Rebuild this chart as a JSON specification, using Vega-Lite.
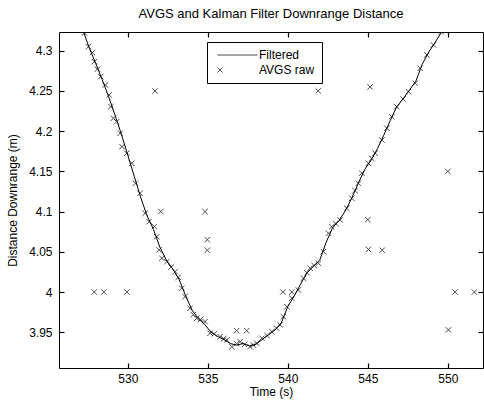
{
  "$schema": "https://vega.github.io/schema/vega-lite/v6.json",
  "width": 424,
  "height": 336,
  "autosize": {"type": "none"},
  "padding": {"left": 59, "top": 32, "right": 1, "bottom": 33},
  "background": "white",
  "config": {
    "view": {"stroke": "black", "strokeWidth": 1},
    "font": "Liberation Sans",
    "axis": {"labelFont": "Liberation Sans", "titleFont": "Liberation Sans", "labelColor": "black", "titleColor": "black", "grid": false, "domain": false, "titleFontWeight": "normal", "labelFontSize": 12, "titleFontSize": 12, "ticks": true, "tickColor": "black", "tickWidth": 1.2, "tickSize": -5}
  },
  "title": {"text": "AVGS and Kalman Filter Downrange Distance", "fontSize": 13, "fontWeight": "normal", "font": "Liberation Sans", "color": "black", "offset": 10, "frame": "group", "anchor": "middle"},
  "datasets": {
    "filtered": [
      {"t": 527.2, "d": 4.325}, {"t": 527.6, "d": 4.303}, {"t": 528.0, "d": 4.284}, {"t": 528.4, "d": 4.264},
      {"t": 528.8, "d": 4.243}, {"t": 529.2, "d": 4.22}, {"t": 529.6, "d": 4.196}, {"t": 530.0, "d": 4.17},
      {"t": 530.4, "d": 4.144}, {"t": 530.8, "d": 4.118}, {"t": 531.2, "d": 4.095}, {"t": 531.6, "d": 4.078},
      {"t": 532.0, "d": 4.056}, {"t": 532.4, "d": 4.04}, {"t": 532.8, "d": 4.029}, {"t": 533.2, "d": 4.016},
      {"t": 533.6, "d": 3.996}, {"t": 534.0, "d": 3.978}, {"t": 534.4, "d": 3.967}, {"t": 534.8, "d": 3.96},
      {"t": 535.2, "d": 3.95}, {"t": 535.6, "d": 3.945}, {"t": 536.0, "d": 3.941}, {"t": 536.4, "d": 3.936},
      {"t": 536.8, "d": 3.934}, {"t": 537.2, "d": 3.936}, {"t": 537.6, "d": 3.933}, {"t": 538.0, "d": 3.935},
      {"t": 538.4, "d": 3.941}, {"t": 538.8, "d": 3.947}, {"t": 539.2, "d": 3.953}, {"t": 539.6, "d": 3.962},
      {"t": 540.0, "d": 3.982}, {"t": 540.4, "d": 3.995}, {"t": 540.8, "d": 4.01}, {"t": 541.2, "d": 4.024},
      {"t": 541.6, "d": 4.032}, {"t": 542.0, "d": 4.04}, {"t": 542.4, "d": 4.062}, {"t": 542.8, "d": 4.08},
      {"t": 543.2, "d": 4.089}, {"t": 543.6, "d": 4.101}, {"t": 544.0, "d": 4.117}, {"t": 544.4, "d": 4.135},
      {"t": 544.8, "d": 4.152}, {"t": 545.2, "d": 4.164}, {"t": 545.6, "d": 4.178}, {"t": 546.0, "d": 4.195},
      {"t": 546.4, "d": 4.213}, {"t": 546.8, "d": 4.23}, {"t": 547.2, "d": 4.24}, {"t": 547.6, "d": 4.251},
      {"t": 548.0, "d": 4.262}, {"t": 548.4, "d": 4.283}, {"t": 548.8, "d": 4.298}, {"t": 549.2, "d": 4.31},
      {"t": 549.7, "d": 4.326}
    ],
    "raw": [
      {"t": 527.29, "d": 4.322, "s": "AVGS raw"}, {"t": 527.54, "d": 4.305, "s": "AVGS raw"}, {"t": 527.79, "d": 4.2975, "s": "AVGS raw"},
      {"t": 527.91, "d": 4.2863, "s": "AVGS raw"}, {"t": 528.1, "d": 4.277, "s": "AVGS raw"}, {"t": 528.31, "d": 4.2677, "s": "AVGS raw"},
      {"t": 528.6, "d": 4.2574, "s": "AVGS raw"}, {"t": 528.83, "d": 4.2449, "s": "AVGS raw"}, {"t": 528.94, "d": 4.2304, "s": "AVGS raw"},
      {"t": 529.1, "d": 4.216, "s": "AVGS raw"}, {"t": 529.31, "d": 4.2118, "s": "AVGS raw"}, {"t": 529.52, "d": 4.1973, "s": "AVGS raw"},
      {"t": 529.64, "d": 4.1807, "s": "AVGS raw"}, {"t": 529.94, "d": 4.1725, "s": "AVGS raw"}, {"t": 530.25, "d": 4.16, "s": "AVGS raw"},
      {"t": 530.48, "d": 4.1352, "s": "AVGS raw"}, {"t": 530.77, "d": 4.1228, "s": "AVGS raw"}, {"t": 531.08, "d": 4.0979, "s": "AVGS raw"},
      {"t": 531.33, "d": 4.0875, "s": "AVGS raw"}, {"t": 531.66, "d": 4.0813, "s": "AVGS raw"}, {"t": 531.81, "d": 4.0688, "s": "AVGS raw"},
      {"t": 531.96, "d": 4.0523, "s": "AVGS raw"}, {"t": 532.13, "d": 4.042, "s": "AVGS raw"}, {"t": 532.44, "d": 4.0378, "s": "AVGS raw"},
      {"t": 532.7, "d": 4.031, "s": "AVGS raw"}, {"t": 532.96, "d": 4.0253, "s": "AVGS raw"}, {"t": 533.16, "d": 4.0184, "s": "AVGS raw"},
      {"t": 533.38, "d": 4.0047, "s": "AVGS raw"}, {"t": 533.58, "d": 3.9943, "s": "AVGS raw"}, {"t": 533.89, "d": 3.9798, "s": "AVGS raw"},
      {"t": 534.1, "d": 3.972, "s": "AVGS raw"}, {"t": 534.31, "d": 3.9674, "s": "AVGS raw"}, {"t": 534.55, "d": 3.966, "s": "AVGS raw"},
      {"t": 534.83, "d": 3.9632, "s": "AVGS raw"}, {"t": 535.14, "d": 3.9488, "s": "AVGS raw"}, {"t": 535.4, "d": 3.948, "s": "AVGS raw"},
      {"t": 535.77, "d": 3.9445, "s": "AVGS raw"}, {"t": 536.0, "d": 3.942, "s": "AVGS raw"}, {"t": 536.19, "d": 3.9404, "s": "AVGS raw"},
      {"t": 536.5, "d": 3.9321, "s": "AVGS raw"}, {"t": 536.8, "d": 3.936, "s": "AVGS raw"}, {"t": 537.02, "d": 3.9383, "s": "AVGS raw"},
      {"t": 537.3, "d": 3.935, "s": "AVGS raw"}, {"t": 537.64, "d": 3.9321, "s": "AVGS raw"}, {"t": 537.85, "d": 3.934, "s": "AVGS raw"},
      {"t": 538.06, "d": 3.9363, "s": "AVGS raw"}, {"t": 538.38, "d": 3.9426, "s": "AVGS raw"}, {"t": 538.7, "d": 3.946, "s": "AVGS raw"},
      {"t": 539.0, "d": 3.9508, "s": "AVGS raw"}, {"t": 539.3, "d": 3.955, "s": "AVGS raw"}, {"t": 539.52, "d": 3.9591, "s": "AVGS raw"},
      {"t": 539.73, "d": 3.9694, "s": "AVGS raw"}, {"t": 539.94, "d": 3.9818, "s": "AVGS raw"}, {"t": 540.25, "d": 3.9923, "s": "AVGS raw"},
      {"t": 540.66, "d": 4.0026, "s": "AVGS raw"}, {"t": 540.98, "d": 4.0171, "s": "AVGS raw"}, {"t": 541.2, "d": 4.024, "s": "AVGS raw"},
      {"t": 541.39, "d": 4.0296, "s": "AVGS raw"}, {"t": 541.65, "d": 4.033, "s": "AVGS raw"}, {"t": 541.91, "d": 4.0358, "s": "AVGS raw"},
      {"t": 542.23, "d": 4.0502, "s": "AVGS raw"}, {"t": 542.54, "d": 4.073, "s": "AVGS raw"}, {"t": 542.75, "d": 4.0813, "s": "AVGS raw"},
      {"t": 543.0, "d": 4.085, "s": "AVGS raw"}, {"t": 543.27, "d": 4.0896, "s": "AVGS raw"}, {"t": 543.69, "d": 4.1041, "s": "AVGS raw"},
      {"t": 544.0, "d": 4.1166, "s": "AVGS raw"}, {"t": 544.2, "d": 4.126, "s": "AVGS raw"}, {"t": 544.41, "d": 4.1352, "s": "AVGS raw"},
      {"t": 544.63, "d": 4.1476, "s": "AVGS raw"}, {"t": 545.04, "d": 4.16, "s": "AVGS raw"}, {"t": 545.25, "d": 4.166, "s": "AVGS raw"},
      {"t": 545.46, "d": 4.1725, "s": "AVGS raw"}, {"t": 545.88, "d": 4.189, "s": "AVGS raw"}, {"t": 546.19, "d": 4.2036, "s": "AVGS raw"},
      {"t": 546.5, "d": 4.218, "s": "AVGS raw"}, {"t": 546.81, "d": 4.2304, "s": "AVGS raw"}, {"t": 547.2, "d": 4.24, "s": "AVGS raw"},
      {"t": 547.54, "d": 4.249, "s": "AVGS raw"}, {"t": 547.96, "d": 4.2595, "s": "AVGS raw"}, {"t": 548.27, "d": 4.2781, "s": "AVGS raw"},
      {"t": 548.69, "d": 4.2947, "s": "AVGS raw"}, {"t": 549.1, "d": 4.3071, "s": "AVGS raw"}, {"t": 549.58, "d": 4.3236, "s": "AVGS raw"},
      {"t": 531.7, "d": 4.25, "s": "AVGS raw"}, {"t": 527.9, "d": 4.0, "s": "AVGS raw"}, {"t": 528.5, "d": 4.0, "s": "AVGS raw"},
      {"t": 529.94, "d": 4.0, "s": "AVGS raw"}, {"t": 532.06, "d": 4.1, "s": "AVGS raw"}, {"t": 534.83, "d": 4.1, "s": "AVGS raw"},
      {"t": 534.97, "d": 4.065, "s": "AVGS raw"}, {"t": 534.97, "d": 4.052, "s": "AVGS raw"}, {"t": 536.8, "d": 3.952, "s": "AVGS raw"},
      {"t": 537.43, "d": 3.952, "s": "AVGS raw"}, {"t": 539.69, "d": 4.0, "s": "AVGS raw"}, {"t": 540.25, "d": 4.0, "s": "AVGS raw"},
      {"t": 541.9, "d": 4.25, "s": "AVGS raw"}, {"t": 545.14, "d": 4.255, "s": "AVGS raw"}, {"t": 545.0, "d": 4.09, "s": "AVGS raw"},
      {"t": 545.04, "d": 4.053, "s": "AVGS raw"}, {"t": 545.9, "d": 4.052, "s": "AVGS raw"}, {"t": 550.0, "d": 4.15, "s": "AVGS raw"},
      {"t": 550.46, "d": 4.0, "s": "AVGS raw"}, {"t": 551.66, "d": 4.0, "s": "AVGS raw"}, {"t": 550.04, "d": 3.953, "s": "AVGS raw"}
    ]
  },
  "layer": [
    {
      "data": {"name": "filtered"},
      "mark": {"type": "line", "color": "black", "strokeWidth": 1, "clip": true},
      "encoding": {
        "x": {"field": "t", "type": "quantitative", "scale": {"domain": [525.7, 552.2], "nice": false, "zero": false},
          "axis": {"orient": "bottom", "values": [530, 535, 540, 545, 550], "labelPadding": 10, "title": "Time (s)", "titlePadding": 2}},
        "y": {"field": "d", "type": "quantitative", "scale": {"domain": [3.9056, 4.3232], "nice": false, "zero": false},
          "axis": {"orient": "left", "values": [3.95, 4, 4.05, 4.1, 4.15, 4.2, 4.25, 4.3], "format": "~g", "labelPadding": 12, "title": "Distance Downrange (m)", "titlePadding": 9}}
      }
    },
    {
      "data": {"name": "raw"},
      "mark": {"type": "point", "filled": false, "color": "black", "strokeWidth": 1, "size": 30, "clip": true},
      "encoding": {
        "x": {"field": "t", "type": "quantitative", "scale": {"domain": [525.7, 552.2], "nice": false, "zero": false},
          "axis": {"orient": "top", "values": [530, 535, 540, 545, 550], "labels": false, "title": null}},
        "y": {"field": "d", "type": "quantitative", "scale": {"domain": [3.9056, 4.3232], "nice": false, "zero": false},
          "axis": {"orient": "right", "values": [3.95, 4, 4.05, 4.1, 4.15, 4.2, 4.25, 4.3], "labels": false, "title": null}},
        "shape": {"field": "s", "type": "nominal",
          "scale": {"domain": ["Filtered", "AVGS raw"], "range": ["M-1,0L15,0", "M-1,-1L1,1M-1,1L1,-1"]},
          "legend": {"title": null, "orient": "none", "legendX": 148, "legendY": 10, "strokeColor": "black", "fillColor": "white", "padding": 7,
            "labelFont": "Liberation Sans", "labelFontSize": 12, "labelColor": "black", "labelOffset": 33, "rowPadding": 3,
            "symbolSize": 25, "symbolStrokeColor": "black", "symbolStrokeWidth": 1}}
      }
    }
  ],
  "resolve": {"axis": {"x": "independent", "y": "independent"}}
}
